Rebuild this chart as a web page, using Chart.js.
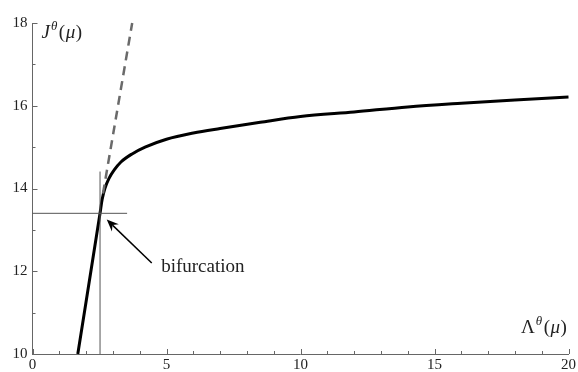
<!DOCTYPE html>
<html>
<head>
<meta charset="utf-8">
<script src="https://cdn.jsdelivr.net/npm/chart.js@4.4.1/dist/chart.umd.min.js"></script>
<style>
  html, body { margin: 0; padding: 0; background: #fff; }
  #wrap { width: 578px; height: 372px; }
</style>
</head>
<body>
<div id="wrap"><canvas id="chart" width="578" height="372"></canvas></div>
<script>
// solution branch J(mu) vs Lambda(mu)
const curveX = [1.69, 2.52, 2.6, 2.7, 2.85, 3.05, 3.3, 3.7, 4.2, 5, 6, 7, 8.5, 10, 12, 14, 16, 18, 20];
const curveY = [10, 13.4, 13.74, 14.0, 14.24, 14.45, 14.64, 14.83, 15.0, 15.19, 15.34, 15.45, 15.6, 15.74, 15.85, 15.97, 16.06, 16.14, 16.21];

// unstable continuation (dashed)
const dashX = [2.63, 3.72];
const dashY = [13.88, 18];

// bifurcation point guides
const bifX = 2.52;
const bifY = 13.4;
const guideTop = 14.41;
const guideRight = 3.53;

const xTicks = [0, 5, 10, 15, 20];
const yTicks = [10, 12, 14, 16, 18];

const SERIF = "'Liberation Serif', 'DejaVu Serif', serif";

const toPts = (xs, ys) => xs.map((x, i) => ({ x, y: ys[i] }));

// draws "Base^θ(μ)" with italic pieces
function mathLabel(ctx, base, italicBase, tx, ty, size) {
  ctx.font = (italicBase ? 'italic ' : '') + size + 'px ' + SERIF;
  ctx.fillText(base, tx, ty);
  tx += ctx.measureText(base).width + 1;
  ctx.font = 'italic ' + Math.round(size * 0.7) + 'px ' + SERIF;
  ctx.fillText('θ', tx, ty - size * 0.42);
  tx += ctx.measureText('θ').width + 1.5;
  ctx.font = size + 'px ' + SERIF;
  ctx.fillText('(', tx, ty);
  tx += ctx.measureText('(').width + 0.5;
  ctx.font = 'italic ' + size + 'px ' + SERIF;
  ctx.fillText('μ', tx, ty);
  tx += ctx.measureText('μ').width + 0.5;
  ctx.font = size + 'px ' + SERIF;
  ctx.fillText(')', tx, ty);
}

// inward tick marks, arrow, labels
const decor = {
  id: 'decor',
  afterDraw(chart) {
    const { ctx, scales: { x, y } } = chart;
    const x0 = x.getPixelForValue(0), y0 = y.getPixelForValue(10);
    ctx.save();
    ctx.strokeStyle = '#666';
    ctx.lineWidth = 1;
    x.ticks.forEach(t => {
      const px = Math.round(x.getPixelForValue(t.value)) + 0.5;
      const len = xTicks.includes(t.value) ? 5 : 3;
      ctx.beginPath(); ctx.moveTo(px, y0); ctx.lineTo(px, y0 - len); ctx.stroke();
    });
    y.ticks.forEach(t => {
      const py = Math.round(y.getPixelForValue(t.value)) + 0.5;
      const len = yTicks.includes(t.value) ? 5 : 3;
      ctx.beginPath(); ctx.moveTo(x0, py); ctx.lineTo(x0 + len, py); ctx.stroke();
    });

    // arrow pointing at the bifurcation
    const ax = x.getPixelForValue(4.45), ay = y.getPixelForValue(12.2);
    const bx = x.getPixelForValue(2.77), by = y.getPixelForValue(13.25);
    const ang = Math.atan2(by - ay, bx - ax);
    const c = Math.cos(ang), s = Math.sin(ang);
    ctx.strokeStyle = '#000';
    ctx.fillStyle = '#000';
    ctx.lineWidth = 1.5;
    ctx.beginPath();
    ctx.moveTo(ax, ay);
    ctx.lineTo(bx - 8 * c, by - 8 * s);
    ctx.stroke();
    ctx.beginPath();
    ctx.moveTo(bx, by);
    ctx.lineTo(bx - 12 * c + 5 * s, by - 12 * s - 5 * c);
    ctx.lineTo(bx - 8 * c, by - 8 * s);
    ctx.lineTo(bx - 12 * c - 5 * s, by - 12 * s + 5 * c);
    ctx.closePath();
    ctx.fill();

    ctx.fillStyle = '#222';
    ctx.textBaseline = 'alphabetic';
    ctx.textAlign = 'left';
    ctx.font = '19px ' + SERIF;
    ctx.fillText('bifurcation', x.getPixelForValue(4.8), y.getPixelForValue(11.98));

    mathLabel(ctx, 'J', true, x0 + 9, y.getPixelForValue(18) + 15, 19);
    mathLabel(ctx, 'Λ', false, 521, y0 - 21, 19);
    ctx.restore();
  }
};

new Chart(document.getElementById('chart'), {
  type: 'line',
  data: {
    datasets: [
      {
        data: [{ x: bifX, y: 10 }, { x: bifX, y: guideTop }],
        borderColor: '#555', borderWidth: 1, pointRadius: 0,
      },
      {
        data: [{ x: 0, y: bifY }, { x: guideRight, y: bifY }],
        borderColor: '#555', borderWidth: 1, pointRadius: 0,
      },
      {
        data: toPts(dashX, dashY),
        borderColor: '#6a6a6a', borderWidth: 2.5, borderDash: [9, 6], pointRadius: 0,
      },
      {
        data: toPts(curveX, curveY),
        borderColor: '#000', borderWidth: 3, pointRadius: 0,
        cubicInterpolationMode: 'monotone',
      },
    ],
  },
  options: {
    responsive: false,
    animation: false,
    clip: false,
    layout: { padding: { top: 23, right: 9, left: 0, bottom: 0 } },
    plugins: { legend: { display: false }, tooltip: { enabled: false } },
    scales: {
      x: {
        type: 'linear', min: 0, max: 20,
        afterFit: s => { s.height = 18; },
        grid: { display: false, drawTicks: false },
        border: { display: true, color: '#666', width: 1 },
        ticks: {
          stepSize: 1, autoSkip: false, maxRotation: 0, padding: 2,
          color: '#222', font: { family: SERIF, size: 15 },
          callback: v => xTicks.includes(v) ? String(v) : '',
        },
      },
      y: {
        type: 'linear', min: 10, max: 18,
        afterFit: s => { s.width = 32.5; },
        grid: { display: false, drawTicks: false },
        border: { display: true, color: '#666', width: 1 },
        ticks: {
          stepSize: 1, autoSkip: false, padding: 5,
          color: '#222', font: { family: SERIF, size: 15 },
          callback: v => yTicks.includes(v) ? String(v) : '',
        },
      },
    },
  },
  plugins: [decor],
});
</script>
</body>
</html>
